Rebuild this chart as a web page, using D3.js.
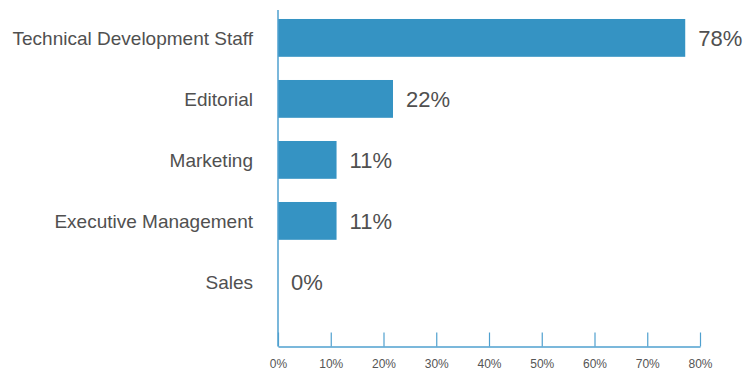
<!DOCTYPE html>
<html><head><meta charset="utf-8">
<script src="https://cdn.jsdelivr.net/npm/d3@7"></script>
<style>body{margin:0;background:#fff}svg{display:block}</style>
</head><body><svg id="c" width="746" height="369"></svg>
<script>
const categories = ["Technical Development Staff","Editorial","Marketing","Executive Management","Sales"];
const values = [77.2, 21.8, 11.1, 11.1, 0];
const valueLabels = ["78%","22%","11%","11%","0%"];
const tickValues = [0,10,20,30,40,50,60,70,80];
const tickLabels = ["0%","10%","20%","30%","40%","50%","60%","70%","80%"];

const svg = d3.select("#c");
const x = d3.scaleLinear().domain([0,80]).range([278,700]);
const y = d3.scaleBand().domain(categories).range([7.4,312.4]).paddingInner(0.38).paddingOuter(0.19);
const axisColor = "#4fa0cf";

svg.selectAll("rect.bar").data(values).join("rect")
  .attr("class","bar")
  .attr("x", x(0))
  .attr("y", (d,i)=>y(categories[i]))
  .attr("width", d=>x(d)-x(0))
  .attr("height", y.bandwidth())
  .attr("fill","#3593c3");

svg.selectAll("text.val").data(values).join("text")
  .attr("class","val")
  .attr("x", d=>x(d)+13)
  .attr("y", (d,i)=>y(categories[i])+y.bandwidth()/2)
  .attr("dy","0.36em")
  .attr("font-family","'Liberation Sans', Arial, sans-serif")
  .attr("font-size",22)
  .attr("fill","#505050")
  .text((d,i)=>valueLabels[i]);

svg.selectAll("text.cat").data(categories).join("text")
  .attr("class","cat")
  .attr("x", 253)
  .attr("y", d=>y(d)+y.bandwidth()/2)
  .attr("dy","0.38em")
  .attr("text-anchor","end")
  .attr("font-family","'Liberation Sans', Arial, sans-serif")
  .attr("font-size",19)
  .attr("fill","#505050")
  .text(d=>d);

svg.append("line").attr("x1",x(0)).attr("x2",x(0)).attr("y1",10).attr("y2",346.5)
  .attr("stroke",axisColor).attr("stroke-width",1.5);

const xAxis = d3.axisBottom(x).tickValues(tickValues).tickSize(0).tickFormat((d,i)=>tickLabels[i]);
const g = svg.append("g").attr("transform","translate(0,346.5)").call(xAxis);
g.select(".domain").attr("stroke",axisColor).attr("stroke-width",1.5);
g.selectAll(".tick line").attr("y2",-14).attr("stroke",axisColor).attr("stroke-width",1.2);
g.selectAll(".tick text").attr("y",21).attr("dy",0)
  .attr("font-family","'Liberation Sans', Arial, sans-serif")
  .attr("font-size",12).attr("fill","#555");
</script></body></html>
